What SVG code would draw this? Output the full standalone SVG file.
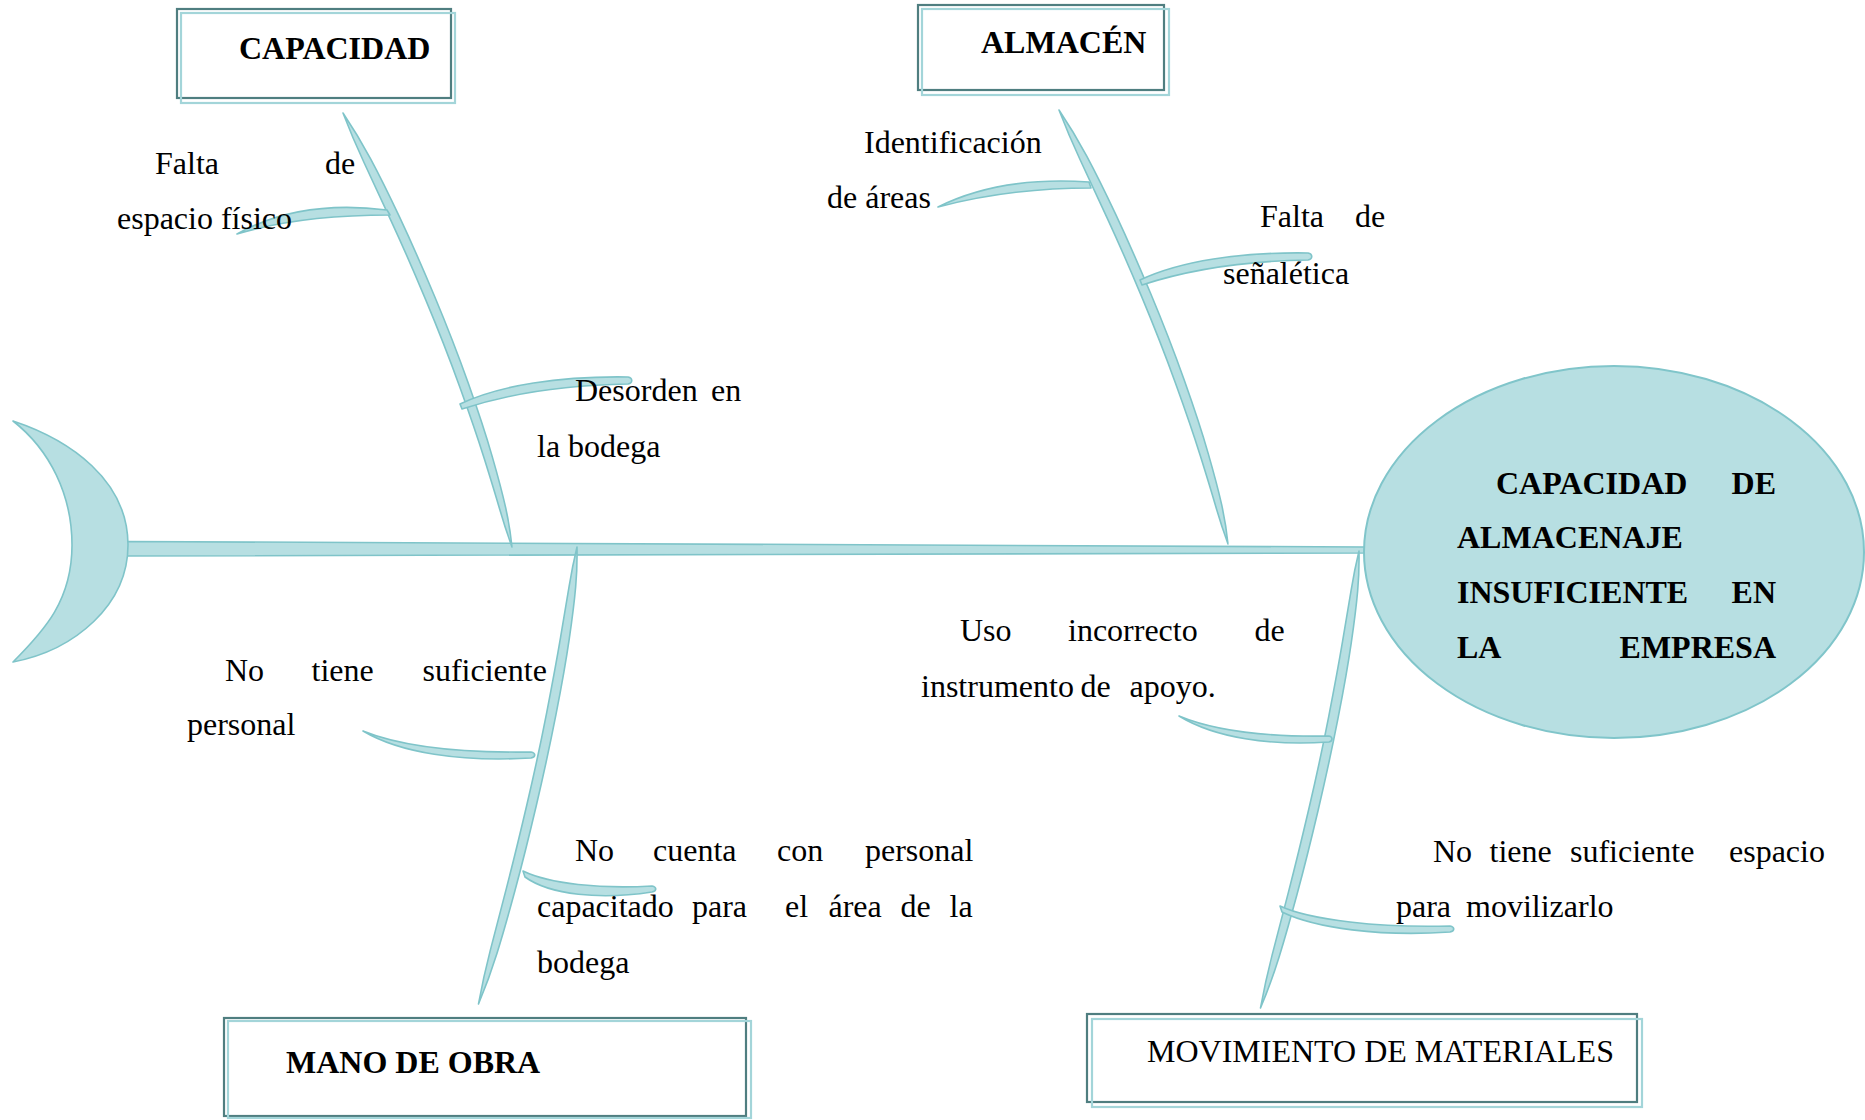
<svg xmlns="http://www.w3.org/2000/svg" width="1865" height="1120" viewBox="0 0 1865 1120">
<style>
  .bone{fill:#b7dfe2;stroke:#7fc4c9;stroke-width:1.6;stroke-linejoin:round}
  .boxd{fill:#ffffff;stroke:#4f7e80;stroke-width:2.2}
  .boxt{fill:none;stroke:#a3d5d9;stroke-width:2.2}
  .t{font-family:"Liberation Serif","Times New Roman",serif;font-size:32px;fill:#000}
  .b{font-family:"Liberation Serif","Times New Roman",serif;font-size:32px;font-weight:bold;fill:#000}
</style>
<defs>
  <path id="boneUp" class="bone" d="M343,113 Q358.2,135.7 370.75,159.1 Q383.3,182.5 399.6,217.15 Q415.9,251.8 434.55,296.3 Q453.2,340.8 468.3,383.35 Q483.4,425.9 492.25,456.6 Q501.1,487.3 505.55,507.2 Q510,527.1 512,547 Q505.2,528.3 499.55,508.8 Q493.9,489.3 484.4,459 Q474.9,428.7 459.6,386.45 Q444.3,344.2 425.75,299.9 Q407.2,255.6 391.2,221.05 Q375.2,186.5 364,162.5 Q352.8,138.5 343,113 Z"/>
  <path id="boneDown" class="bone" d="M577,547 Q577.4,566.8 575.65,586.95 Q573.9,607.1 569.3,638.55 Q564.7,670 556,714.4 Q547.3,758.8 536.2,805.95 Q525.1,853.1 515.05,890.3 Q505,927.5 497.1,953.05 Q489.2,978.6 478.5,1004 Q483.4,977 490.1,951.15 Q496.8,925.3 506.45,888.1 Q516.1,850.9 527.1,803.8 Q538.1,756.7 546.7,712.55 Q555.3,668.4 560.6,637.15 Q565.9,605.9 569.15,586.05 Q572.4,566.2 577,547 Z"/>
</defs>
<rect width="1865" height="1120" fill="#ffffff"/>

<g id="connectors">
  <!-- spine -->
  <path class="bone" d="M126,541.5 L1366,547 L1366,553 L126,556 Z"/>
  <!-- CAPACIDAD main bone and its causes -->
  <use href="#boneUp"/>
  <path class="bone" d="M237,234 Q300,199 387,210 L390,215 Q300,215 237,234 Z"/>
  <path class="bone" d="M460,404 C500,385 560,376 628,377 C633,378 633,383 628,384 C560,385 505,395 462,409 Z"/>
  <!-- ALMACEN main bone and its causes -->
  <use href="#boneUp" x="716" y="-3"/>
  <path class="bone" d="M938,207 Q1000,176 1089,182 L1091,188 Q1010,188 938,207 Z"/>
  <path class="bone" d="M1140,280 C1180,261 1240,252 1308,253 C1313,254 1313,259 1308,260 C1240,261 1185,271 1142,285 Z"/>
  <!-- MANO DE OBRA main bone and its causes -->
  <use href="#boneDown"/>
  <path class="bone" d="M363,731 C400,746 460,753 531,752 C536,753 536,757 531,758 C460,762 400,753 363,731 Z"/>
  <path class="bone" d="M523,871 C550,884 600,889 652,886 C657,887 657,891 652,892 C600,900 550,895 525,877 Z"/>
  <!-- MOVIMIENTO main bone and its causes -->
  <use href="#boneDown" x="782" y="4"/>
  <path class="bone" d="M1179,716 C1215,731 1270,737 1329,736 C1333,737 1333,741 1329,742 C1270,746 1215,738 1179,716 Z"/>
  <path class="bone" d="M1280,906 C1310,920 1380,928 1450,926 C1455,927 1455,931 1450,932 C1380,937 1315,928 1282,912 Z"/>
</g>

<g id="tail">
  <path class="bone" d="M13,421 C70,440 128,480 128,545 C128,605 75,650 13,662 C45,630 72,600 72,545 C72,495 50,450 13,421 Z"/>
</g>

<g id="effect">
  <ellipse cx="1614" cy="552" rx="250" ry="186" fill="#b7dfe2" stroke="#80c5ca" stroke-width="2"/>
  <text class="b"><tspan x="1496" y="494">CAPACIDAD</tspan><tspan x="1776" y="494" text-anchor="end">DE</tspan></text>
  <text class="b" x="1457" y="548">ALMACENAJE</text>
  <text class="b"><tspan x="1457" y="603">INSUFICIENTE</tspan><tspan x="1776" y="603" text-anchor="end">EN</tspan></text>
  <text class="b"><tspan x="1457" y="658">LA</tspan><tspan x="1776" y="658" text-anchor="end">EMPRESA</tspan></text>
</g>

<g id="box-capacidad">
  <rect class="boxd" x="177" y="9" width="274" height="89"/>
  <rect class="boxt" x="181" y="13" width="274" height="90"/>
  <text class="b" x="239" y="59">CAPACIDAD</text>
</g>
<g id="box-almacen">
  <rect class="boxd" x="918" y="5" width="246" height="85"/>
  <rect class="boxt" x="922" y="9" width="247" height="86"/>
  <text class="b" x="981" y="53">ALMACÉN</text>
</g>
<g id="box-mano-de-obra">
  <rect class="boxd" x="224" y="1018" width="522" height="98"/>
  <rect class="boxt" x="228" y="1021" width="523" height="97"/>
  <text class="b" x="286" y="1073">MANO DE OBRA</text>
</g>
<g id="box-movimiento">
  <rect class="boxd" x="1087" y="1014" width="550" height="88"/>
  <rect class="boxt" x="1092" y="1019" width="550" height="88"/>
  <text class="t" x="1147" y="1062">MOVIMIENTO DE MATERIALES</text>
</g>

<g id="cause-espacio">
  <text class="t"><tspan x="155" y="174">Falta</tspan><tspan x="325" y="174">de</tspan></text>
  <text class="t" x="117" y="229">espacio físico</text>
</g>
<g id="cause-desorden">
  <text class="t"><tspan x="575" y="401">Desorden</tspan><tspan x="711" y="401">en</tspan></text>
  <text class="t" x="537" y="457">la bodega</text>
</g>
<g id="cause-identificacion">
  <text class="t" x="864" y="153">Identificación</text>
  <text class="t" x="827" y="208">de áreas</text>
</g>
<g id="cause-senaletica">
  <text class="t"><tspan x="1260" y="227">Falta</tspan><tspan x="1355" y="227">de</tspan></text>
  <text class="t" x="1223" y="284">señalética</text>
</g>
<g id="cause-personal">
  <text class="t"><tspan x="225" y="681">No</tspan><tspan x="311.5" y="681">tiene</tspan><tspan x="422.5" y="681">suficiente</tspan></text>
  <text class="t" x="187" y="735">personal</text>
</g>
<g id="cause-capacitado">
  <text class="t"><tspan x="575" y="861">No</tspan><tspan x="653" y="861">cuenta</tspan><tspan x="777" y="861">con</tspan><tspan x="865" y="861">personal</tspan></text>
  <text class="t"><tspan x="537" y="917">capacitado</tspan><tspan x="692" y="917">para</tspan><tspan x="785" y="917">el</tspan><tspan x="828.5" y="917">área</tspan><tspan x="900.5" y="917">de</tspan><tspan x="949.5" y="917">la</tspan></text>
  <text class="t" x="537" y="973">bodega</text>
</g>
<g id="cause-instrumento">
  <text class="t"><tspan x="960" y="641">Uso</tspan><tspan x="1068" y="641">incorrecto</tspan><tspan x="1254.5" y="641">de</tspan></text>
  <text class="t"><tspan x="921" y="697">instrumento</tspan><tspan x="1080.5" y="697">de</tspan><tspan x="1129.5" y="697">apoyo.</tspan></text>
</g>
<g id="cause-espacio-movilizar">
  <text class="t"><tspan x="1433" y="862">No</tspan><tspan x="1489.5" y="862">tiene</tspan><tspan x="1570" y="862">suficiente</tspan><tspan x="1729" y="862">espacio</tspan></text>
  <text class="t"><tspan x="1396" y="917">para</tspan><tspan x="1466" y="917">movilizarlo</tspan></text>
</g>
</svg>
